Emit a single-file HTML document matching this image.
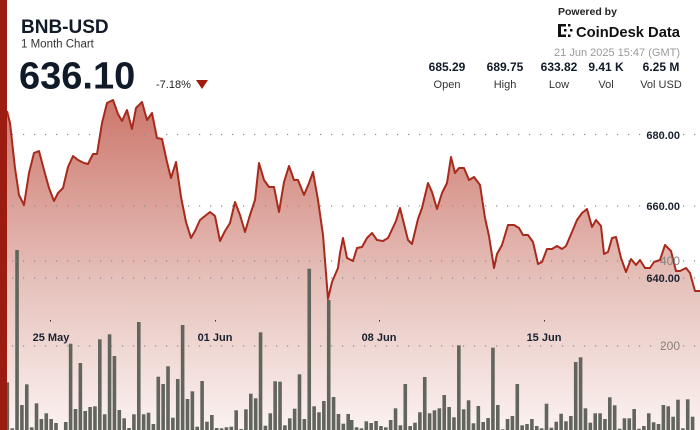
<!DOCTYPE html>
<html><head><meta charset="utf-8"><style>
html,body{margin:0;padding:0;background:#fff;}
body{width:700px;height:430px;overflow:hidden;position:relative;font-family:"Liberation Sans",sans-serif;}
svg{position:absolute;left:0;top:0;}
</style></head><body>
<svg id="s" width="700" height="430" viewBox="0 0 700 430" xmlns="http://www.w3.org/2000/svg">
<defs>
<linearGradient id="g" x1="0" y1="0" x2="0" y2="1" gradientUnits="userSpaceOnUse" x1b="0">
<stop offset="0" stop-color="#c8685c" stop-opacity="0.85"/>
<stop offset="1" stop-color="#c8685c" stop-opacity="0.06"/>
</linearGradient>
<linearGradient id="g2" x1="0" y1="100" x2="0" y2="430" gradientUnits="userSpaceOnUse">
<stop offset="0" stop-color="#cd776c"/>
<stop offset="0.55" stop-color="#e6c1bb"/>
<stop offset="1" stop-color="#fbf2f0"/>
</linearGradient>
</defs>
<path id="area" fill="url(#g2)" d=""/>
<g id="grid" stroke="#8a8f8f" stroke-width="1.2" stroke-dasharray="1.2 9.8" fill="none">
<line x1="12" x2="700" y1="134.5" y2="134.5"/>
<line x1="12" x2="700" y1="206" y2="206"/>
<line x1="12" x2="700" y1="261" y2="261"/>
<line x1="12" x2="700" y1="278" y2="278"/>
<line x1="12" x2="700" y1="346" y2="346"/>
</g>
<g id="bars" fill="#62655d"></g>
<polyline id="line" fill="none" stroke="#a82a1c" stroke-width="2" stroke-linejoin="round" points=""/>
<rect x="0" y="0" width="7" height="430" fill="#9b1c10"/>
<g font-family="Liberation Sans, sans-serif" font-weight="bold" font-size="11" fill="#1a2230" text-anchor="end">
<text x="680" y="139">680.00</text>
<text x="680" y="210">660.00</text>
<text x="680" y="282">640.00</text>
</g>
<g font-family="Liberation Sans, sans-serif" font-size="12" fill="#8a807c" text-anchor="end">
<text x="680" y="265">400</text>
<text x="680" y="350">200</text>
</g>
<g fill="#333"><rect x="50" y="320" width="1" height="1.5"/><rect x="215" y="320" width="1" height="1.5"/><rect x="379" y="320" width="1" height="1.5"/><rect x="544" y="320" width="1" height="1.5"/></g>
<g font-family="Liberation Sans, sans-serif" font-weight="bold" font-size="11" fill="#1a2230" text-anchor="middle">
<text x="51" y="341">25 May</text>
<text x="215" y="341">01 Jun</text>
<text x="379" y="341">08 Jun</text>
<text x="544" y="341">15 Jun</text>
</g>
<text x="21" y="33" font-family="Liberation Sans, sans-serif" font-weight="bold" font-size="19" fill="#111a28">BNB-USD</text>
<text x="21" y="47.5" font-family="Liberation Sans, sans-serif" font-size="11.5" fill="#333">1 Month Chart</text>
<text x="19" y="88.5" font-family="Liberation Sans, sans-serif" font-weight="bold" font-size="38" fill="#111a28">636.10</text>
<text x="156" y="88" font-family="Liberation Sans, sans-serif" font-size="11" fill="#222">-7.18%</text>
<polygon points="196,80 208,80 202,89" fill="#a01c0c"/>
<text x="558" y="15" font-family="Liberation Sans, sans-serif" font-weight="bold" font-size="10.5" fill="#222">Powered by</text>
<g fill="#111"><rect x="558" y="24" width="3" height="13"/><rect x="561" y="24" width="5" height="2.5"/><rect x="561" y="34.5" width="5" height="2.5"/><rect x="568" y="24" width="2.5" height="2.5"/><rect x="568" y="34.5" width="2.5" height="2.5"/><rect x="564" y="29" width="2.5" height="2.5"/><rect x="570" y="29" width="2.5" height="2.5"/></g>
<text x="576" y="37" font-family="Liberation Sans, sans-serif" font-weight="bold" font-size="15" fill="#111" textLength="104" lengthAdjust="spacingAndGlyphs">CoinDesk Data</text>
<text x="680" y="56" text-anchor="end" font-family="Liberation Sans, sans-serif" font-size="11" fill="#999">21 Jun 2025 15:47 (GMT)</text>
<g font-family="Liberation Sans, sans-serif" font-weight="bold" font-size="12" fill="#111a28" text-anchor="middle">
<text x="447" y="71">685.29</text><text x="505" y="71">689.75</text><text x="559" y="71">633.82</text><text x="606" y="71">9.41 K</text><text x="661" y="71">6.25 M</text>
</g>
<g font-family="Liberation Sans, sans-serif" font-size="11" fill="#333" text-anchor="middle">
<text x="447" y="88">Open</text><text x="505" y="88">High</text><text x="559" y="88">Low</text><text x="606" y="88">Vol</text><text x="661" y="88">Vol USD</text>
</g>
</svg>
<script>
var P=[[7,111],[10,123],[15,168],[19,195],[24,205],[29,173],[34,153],[39,151],[44,170],[49,188],[54,201],[58,193],[63,188],[68,167],[73,156],[78,160],[84,163],[88,164],[93,154],[97,154],[102,123],[107,103],[113,100],[118,114],[122,121],[127,110],[132,129],[136,108],[142,102],[147,120],[152,113],[157,138],[162,139],[167,162],[171,178],[176,162],[181,197],[186,222],[191,238],[195,231],[200,220],[205,216],[210,212],[215,216],[220,241],[225,231],[230,223],[235,202],[240,215],[245,232],[250,215],[255,200],[259,163],[264,180],[269,187],[274,187],[279,212],[284,182],[289,166],[294,180],[298,180],[304,195],[309,183],[313,172],[318,200],[323,235],[328,299],[332,282],[338,268],[340,253],[343,238],[347,258],[353,261],[357,248],[362,247],[367,238],[372,233],[377,240],[383,241],[388,238],[396,221],[400,208],[408,240],[412,244],[418,219],[422,208],[428,183],[432,192],[437,209],[442,193],[447,183],[451,157],[455,173],[459,168],[464,168],[469,180],[474,177],[480,185],[485,218],[489,236],[494,268],[497,254],[502,245],[508,225],[514,225],[519,228],[523,235],[528,235],[533,242],[538,264],[542,262],[547,249],[552,249],[557,246],[562,249],[566,246],[572,232],[577,220],[582,213],[587,209],[592,227],[596,220],[601,226],[604,254],[608,252],[612,238],[616,237],[621,258],[626,272],[631,259],[636,265],[640,260],[645,268],[650,268],[654,262],[660,260],[665,245],[671,251],[676,271],[680,271],[686,268],[690,273],[695,291],[700,291]];
var pts=P.map(function(p){return p.join(',')}).join(' ');
document.getElementById('line').setAttribute('points',pts);
document.getElementById('area').setAttribute('d','M7,430 L'+P.map(function(p){return p.join(',')}).join(' L')+' L700,430 Z');
var A=[47.7,1.7,180,25,45.7,2.7,26.7,11,16.7,11,7,0,8,86.3,21,67,19,23,23.7,90.7,15.7,95.7,74,20,11.7,2,15.7,108,15.7,17.3,6,53.3,46,63.7,12.3,51,105,31,38.7,3.3,49,8.3,15,2,1.7,2.7,3.3,19.7,1,20.7,36.3,31.7,97.7,4.3,16.7,48.7,48.3,4.7,11.7,21.3,55.7,11,161.3,23.7,17.7,29,130,33,16,6.3,16];
var B=[10,2.7,1.7,8.7,7,9,4,2.7,10,21.7,4.7,46,4,7.3,17.7,53,16.7,19.7,21.7,35,23,12.7,84.7,20.7,29.7,6.7,24,8,12,82.3,25,0.7,11,14,46,4.7,6,11,4,1.7,26.3,2.3,8.3,16.3,8.7,14,68,72.7,21.7,7.3,16.7,16.7,11,32.7,24.7,1.3,11.7,11.7,21,1.3,4,16.7,7.7,6,25,23.7,13.3,30.3,1.7,30.7,13.3];
var g=document.getElementById('bars'),s='';
A.forEach(function(h,i){var x=7.3+i*4.87;s+='<rect x="'+(x-1.8).toFixed(2)+'" y="'+(430-h).toFixed(1)+'" width="3.6" height="'+h+'"/>';});
B.forEach(function(h,i){var x=351.7+i*4.87;s+='<rect x="'+(x-1.8).toFixed(2)+'" y="'+(430-h).toFixed(1)+'" width="3.6" height="'+h+'"/>';});
g.innerHTML=s;
</script>
</body></html>
